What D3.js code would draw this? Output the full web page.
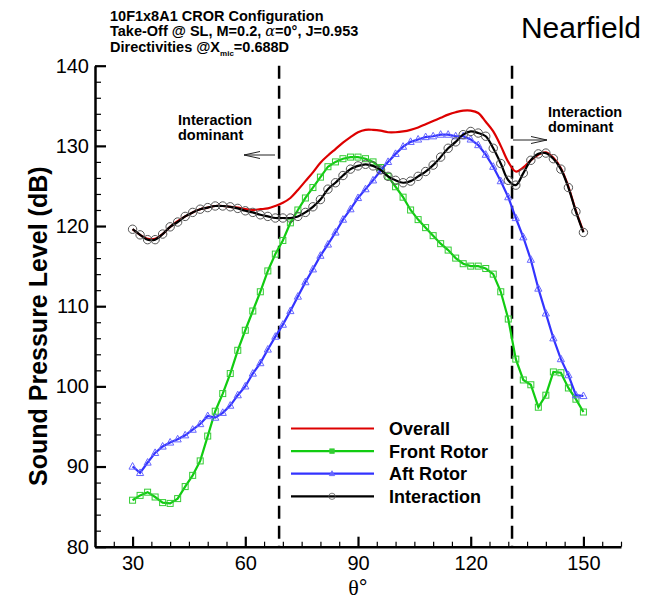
<!DOCTYPE html>
<html>
<head>
<meta charset="utf-8">
<script src="https://cdn.jsdelivr.net/npm/d3@7"></script>
<style>
  body { margin: 0; background: #fff; }
  svg { display: block; font-family: Arial, 'Liberation Sans', sans-serif; }
</style>
</head>
<body>
<div id="chart"></div>
<script>
// polar angle (deg) of the microphone positions
const thetaDeg = [30, 32, 34, 36, 38, 40, 42, 44, 46, 48,
  50, 52, 54, 56, 58, 60, 62, 64, 66, 68,
  70, 72, 74, 76, 78, 80, 82, 84, 86, 88,
  90, 92, 94, 96, 98, 100, 102, 104, 106, 108,
  110, 112, 114, 116, 118, 120, 122, 124, 126, 128,
  130, 132, 134, 136, 138, 140, 142, 144, 146, 148, 150]

const overallSPL = [119.6, 118.9, 118.4, 118.4, 119.0, 119.9, 120.6, 121.2, 121.7, 122.1,
  122.3, 122.5, 122.5, 122.4, 122.3, 122.1, 122.0, 122.1, 122.2, 122.5,
  122.9, 123.5, 124.5, 125.6, 126.7, 127.9, 128.8, 129.6, 130.4, 131.1,
  131.7, 132.0, 132.0, 131.9, 131.7, 131.7, 131.8, 132.0, 132.3, 132.7,
  133.1, 133.5, 133.9, 134.2, 134.4, 134.4, 134.1, 133.0, 131.8, 130.0,
  128.0, 126.8, 127.3, 128.2, 128.9, 129.2, 128.5, 127.2, 124.9, 121.9, 119.3]

const frontRotorSPL = [85.8, 86.4, 86.8, 86.2, 85.5, 85.4, 86.0, 87.5, 88.9, 90.7,
  93.8, 96.9, 99.1, 101.6, 104.5, 107.0, 109.4, 111.8, 114.4, 116.5,
  118.2, 120.4, 122.0, 123.5, 124.8, 126.1, 127.4, 128.0, 128.4, 128.6,
  128.6, 128.4, 128.0, 127.3, 126.2, 124.9, 123.6, 122.0, 120.8, 119.8,
  118.8, 117.8, 117.0, 116.0, 115.3, 115.0, 115.0, 114.7, 114.0, 111.8,
  108.4, 103.4, 100.8, 100.2, 97.4, 98.9, 101.8, 101.7, 99.8, 98.4, 96.8]

const aftRotorSPL = [90.0, 89.2, 90.5, 91.7, 92.5, 93.0, 93.4, 93.9, 94.6, 95.3,
  96.3, 96.1, 96.7, 97.6, 98.9, 100.0, 101.6, 102.9, 104.6, 106.2,
  107.7, 109.4, 111.2, 113.0, 114.6, 116.3, 117.7, 119.2, 120.8, 122.1,
  123.5, 124.6, 125.7, 126.9, 128.0, 129.0, 129.9, 130.5, 130.8, 131.1,
  131.2, 131.4, 131.4, 131.2, 131.2, 130.8, 130.1, 128.9, 127.4, 125.6,
  123.6, 121.0, 118.6, 115.8, 112.2, 109.1, 106.0, 103.4, 101.4, 98.9, 98.8]

const interactionSPL = [119.6, 118.9, 118.3, 118.3, 119.0, 119.9, 120.5, 121.2, 121.7, 122.1,
  122.3, 122.5, 122.5, 122.4, 122.2, 121.9, 121.7, 121.4, 121.2, 121.0,
  121.0, 121.0, 121.2, 121.7, 122.4, 123.3, 124.6, 125.4, 126.3, 127.1,
  127.5, 127.7, 127.5, 127.0, 126.2, 125.7, 125.4, 125.6, 126.2, 126.8,
  127.6, 128.6, 129.7, 130.5, 131.4, 131.8, 131.6, 131.2, 129.7, 127.8,
  125.7, 125.1, 126.6, 128.2, 129.0, 129.1, 128.4, 127.1, 124.8, 121.8, 119.2]

const seriesNames = ['Overall', 'Front Rotor', 'Aft Rotor', 'Interaction']
const xTickLabels = [30, 60, 90, 120, 150]
const yTickLabels = [80, 90, 100, 110, 120, 130, 140]
const regionBounds = [69, 131]

const width = 646
const height = 599

const x = d3.scaleLinear().domain([20, 160]).range([95, 621])
const y = d3.scaleLinear().domain([80, 140]).range([546.7, 65.7])

const svg = d3.select('#chart')
  .append('svg')
  .attr('width', width)
  .attr('height', height)

// header text
const header = svg.append('g')
  .attr('font-weight', 'bold')
  .attr('font-size', 14.5)
header.append('text').attr('x', 110).attr('y', 20.5).text('10F1x8A1 CROR Configuration')
const line2 = header.append('text').attr('x', 110).attr('y', 36)
line2.append('tspan').text('Take-Off @ SL, M=0.2, ')
line2.append('tspan').attr('font-family', "'DejaVu Serif', serif").attr('font-weight', 'normal').attr('font-style', 'italic').text('\u03b1')
line2.append('tspan').text('=0\u00b0, J=0.953')
const line3 = header.append('text').attr('x', 110).attr('y', 51.5)
line3.append('tspan').text('Directivities @X')
line3.append('tspan').attr('font-size', 8).attr('dy', 4).text('mic')
line3.append('tspan').attr('dy', -4).text('=0.688D')

svg.append('text')
  .attr('x', 641)
  .attr('y', 38)
  .attr('text-anchor', 'end')
  .attr('font-size', 30)
  .text('Nearfield')

// axes, ticks pointing into the plot
const yMinor = d3.range(80, 141, 2).filter(v => v % 10 !== 0)
const xMinor = d3.range(20, 161, 5).filter(v => xTickLabels.indexOf(v) < 0)

svg.append('g')
  .attr('transform', `translate(${x(20)},0)`)
  .call(d3.axisLeft(y).tickValues(yMinor).tickSize(-6).tickFormat(''))
  .call(g => g.select('.domain').remove())
  .call(g => g.selectAll('line').attr('stroke-width', 1.2))

svg.append('g')
  .attr('transform', `translate(${x(20)},0)`)
  .call(d3.axisLeft(y).tickValues(yTickLabels).tickSize(-11).tickSizeOuter(0).tickPadding(6))
  .call(g => g.select('.domain').attr('stroke-width', 2.5))
  .call(g => g.selectAll('line').attr('stroke-width', 2.2))
  .call(g => g.selectAll('text').attr('font-size', 20).attr('font-family', "Arial, 'Liberation Sans', sans-serif"))

svg.append('g')
  .attr('transform', `translate(0,${y(80)})`)
  .call(d3.axisBottom(x).tickValues(xMinor).tickSize(-5).tickFormat(''))
  .call(g => g.select('.domain').remove())
  .call(g => g.selectAll('line').attr('stroke-width', 1.2))

svg.append('g')
  .attr('transform', `translate(0,${y(80)})`)
  .call(d3.axisBottom(x).tickValues(xTickLabels).tickSize(-10).tickSizeOuter(0).tickPadding(9))
  .call(g => g.select('.domain').attr('stroke-width', 2.5))
  .call(g => g.selectAll('line').attr('stroke-width', 2.2))
  .call(g => g.selectAll('text').attr('font-size', 20).attr('font-family', "Arial, 'Liberation Sans', sans-serif"))

svg.append('text')
  .attr('transform', `translate(47,${(y(80) + y(140)) / 2 + 20}) rotate(-90)`)
  .attr('text-anchor', 'middle')
  .attr('font-size', 25)
  .attr('font-weight', 'bold')
  .text('Sound Pressure Level (dB)')

const xTitle = svg.append('text')
  .attr('x', x(90))
  .attr('y', 595)
  .attr('text-anchor', 'middle')
  .attr('font-size', 22)
xTitle.append('tspan').attr('font-family', "'Liberation Serif', 'DejaVu Serif', serif").text('\u03b8')
xTitle.append('tspan').text('\u00b0')

// region boundaries
svg.selectAll('.bound')
  .data(regionBounds)
  .enter()
  .append('line')
  .attr('x1', d => x(d))
  .attr('x2', d => x(d))
  .attr('y1', y(140))
  .attr('y2', y(80))
  .attr('stroke', '#000')
  .attr('stroke-width', 2.5)
  .attr('stroke-dasharray', '13,7')

// annotations
function note (tx, ty, x1, x2, ay) {
  const t = svg.append('text').attr('font-size', 14.5).attr('font-weight', 'bold')
  t.append('tspan').attr('x', tx).attr('y', ty).text('Interaction')
  t.append('tspan').attr('x', tx).attr('y', ty + 15).text('dominant')
  const dir = x2 > x1 ? 1 : -1
  const g = svg.append('g').attr('stroke', '#222').attr('stroke-width', 1).attr('fill', 'none')
  g.append('line').attr('x1', x1).attr('x2', x2).attr('y1', ay).attr('y2', ay)
  g.append('polyline')
    .attr('points', `${x2 - dir * 16},${ay - 3.5} ${x2},${ay} ${x2 - dir * 16},${ay + 3.5}`)
}
note(178, 125, 275, 244, 155)
note(548, 117, 513, 547, 140)

// series
const series = [
  { values: overallSPL, color: '#dd0000', marker: null, curve: d3.curveCatmullRom },
  { values: frontRotorSPL, color: '#11cc11', marker: 'square', curve: d3.curveLinear },
  { values: aftRotorSPL, color: '#3333ff', marker: 'triangle', curve: d3.curveLinear },
  { values: interactionSPL, color: '#000000', marker: 'circle', curve: d3.curveCatmullRom }
]
const markerColor = { square: '#33cc33', triangle: '#6666ff', circle: '#555555' }

function drawMarker (sel, kind, color) {
  if (kind === 'square') {
    sel.append('rect').attr('x', -3).attr('y', -3).attr('width', 6).attr('height', 6)
  } else if (kind === 'triangle') {
    sel.append('path').attr('d', 'M0,-4 L3.6,2.6 L-3.6,2.6 Z')
  } else {
    sel.append('circle').attr('r', 4.2)
  }
  sel.attr('fill', 'none').attr('stroke', color).attr('stroke-width', 1)
}

series.forEach(s => {
  const pts = thetaDeg.map((t, i) => [t, s.values[i]])
  const line = d3.line().x(d => x(d[0])).y(d => y(d[1])).curve(s.curve)
  svg.append('path')
    .datum(pts)
    .attr('d', line)
    .attr('fill', 'none')
    .attr('stroke', s.color)
    .attr('stroke-width', 2.2)
  if (s.marker) {
    svg.append('g')
      .selectAll('g')
      .data(pts)
      .enter()
      .append('g')
      .attr('transform', d => `translate(${x(d[0])},${y(d[1])})`)
      .each(function () { drawMarker(d3.select(this), s.marker, markerColor[s.marker]) })
  }
})

// legend
const legend = svg.append('g')
series.forEach((s, i) => {
  const ly = 428.5 + i * 22.6
  legend.append('line')
    .attr('x1', 291).attr('x2', 374).attr('y1', ly).attr('y2', ly)
    .attr('stroke', s.color).attr('stroke-width', 2.2)
  if (s.marker) {
    const m = legend.append('g').attr('transform', `translate(332,${ly})`)
    drawMarker(m, s.marker, markerColor[s.marker])
    if (s.marker !== 'circle') m.selectAll('*').attr('fill', markerColor[s.marker])
    m.selectAll('*').attr('transform', 'scale(0.75)')
  }
  legend.append('text')
    .attr('x', 389)
    .attr('y', ly + 6.5)
    .attr('font-size', 18)
    .attr('font-weight', 'bold')
    .text(seriesNames[i])
})
</script>
</body>
</html>
